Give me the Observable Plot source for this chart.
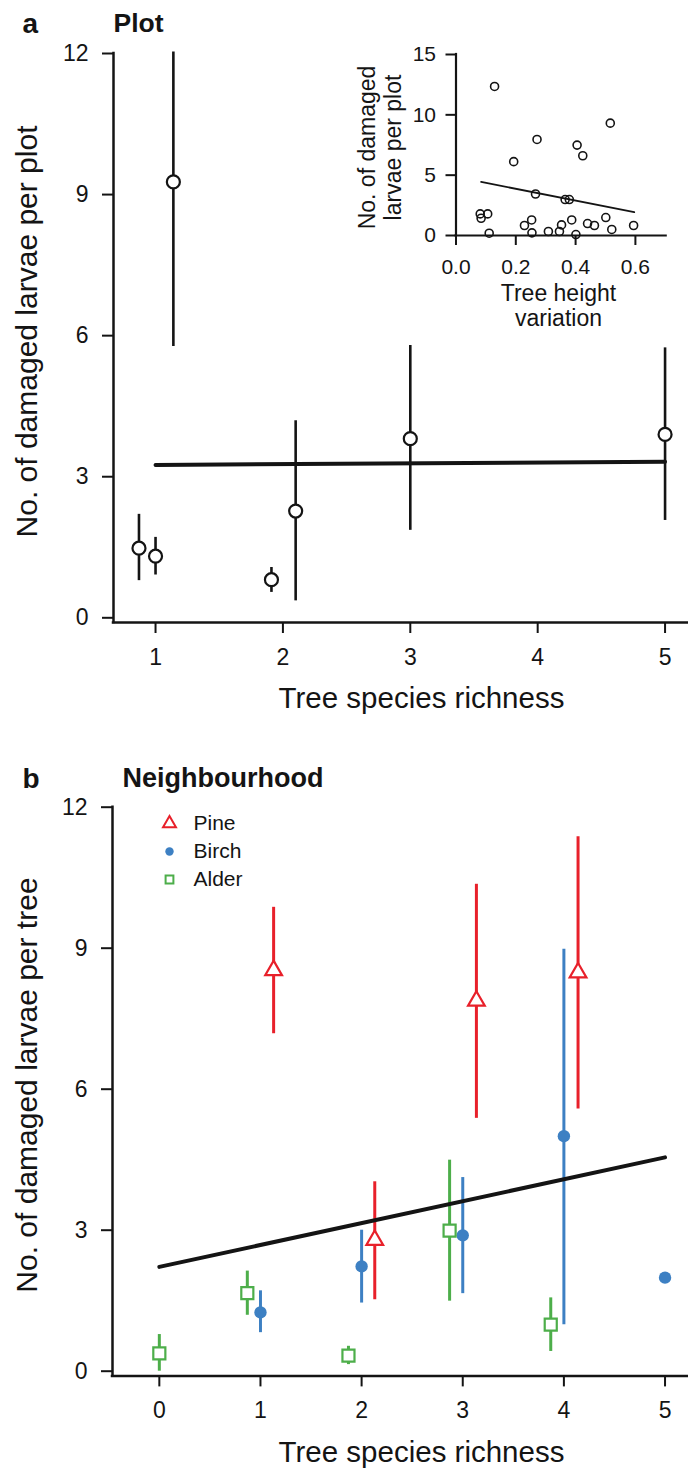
<!DOCTYPE html>
<html><head><meta charset="utf-8">
<script src="https://cdn.jsdelivr.net/npm/d3@7"></script>
<script src="https://cdn.jsdelivr.net/npm/@observablehq/plot@0.6"></script>
<style>
html,body{margin:0;padding:0;background:#fff;overflow:hidden;}
#wrap{position:relative;width:688px;height:1473px;background:#fff;}
#wrap > svg{position:absolute;}
</style></head><body><div id="wrap"></div>
<script>
// ---------- Panel a: plot level ----------
const richnessTicksA = [1, 2, 3, 4, 5];
const damageTicks = [0, 3, 6, 9, 12];
const plotRichness = [0.87, 1.0, 1.14, 1.91, 2.10, 3.0, 5.0];
const plotMean = [1.48, 1.31, 9.27, 0.81, 2.27, 3.81, 3.90];
const plotLow = [0.79, 0.91, 5.77, 0.54, 0.36, 1.86, 2.07];
const plotHigh = [2.20, 1.71, 12.03, 1.07, 4.19, 5.79, 5.74];
const plotFitRichness = [1, 5];
const plotFitValue = [3.25, 3.32];

// ---------- Inset: tree height variation ----------
const heightTicks = [0, 0.2, 0.4, 0.6];
const insetDamageTicks = [0, 5, 10, 15];
const heightVariation = [0.084, 0.081, 0.106, 0.111, 0.129, 0.193, 0.229, 0.253, 0.254, 0.266, 0.271, 0.309, 0.346, 0.353, 0.365, 0.379, 0.387, 0.401, 0.405, 0.424, 0.440, 0.463, 0.501, 0.516, 0.521, 0.594];
const heightDamage = [1.43, 1.79, 1.79, 0.19, 12.35, 6.12, 0.83, 1.29, 0.22, 3.44, 7.96, 0.33, 0.33, 0.88, 2.98, 2.98, 1.29, 0.08, 7.49, 6.61, 0.99, 0.83, 1.49, 9.31, 0.50, 0.83];
const heightFitX = [0.084, 0.596];
const heightFitY = [4.44, 1.93];

// ---------- Panel b: neighbourhood ----------
const richnessTicksB = [0, 1, 2, 3, 4, 5];
const species = ["Pine", "Birch", "Alder"];
const speciesColors = ["#e8202a", "#3d80c3", "#4dae4a"];
const speciesSymbols = ["triangle", "circle", "square"];
const pineRichness = [1.13, 2.13, 3.135, 4.14];
const pineMean = [8.53, 2.79, 7.88, 8.48];
const pineLow = [7.18, 1.52, 5.38, 5.58];
const pineHigh = [9.87, 4.03, 10.36, 11.37];
const birchRichness = [1.0, 2.0, 3.0, 4.0, 5.0];
const birchMean = [1.25, 2.23, 2.89, 5.00, 1.99];
const birchLow = [0.82, 1.45, 1.65, 0.99, null];
const birchHigh = [1.71, 3.00, 4.12, 8.98, null];
const alderRichness = [0.0, 0.87, 1.87, 2.87, 3.87];
const alderMean = [0.38, 1.66, 0.33, 2.99, 0.99];
const alderLow = [0.0, 1.19, 0.14, 1.49, 0.42];
const alderHigh = [0.78, 2.13, 0.53, 4.49, 1.56];
const neighFitRichness = [0, 5];
const neighFitValue = [2.22, 4.55];

// ---------- helpers ----------
const FONT = "'Liberation Sans', Arial, Helvetica, sans-serif";
const INK = "#141414";
const intFmt = d3.format("d");
const rows = (xs, ys, lo, hi) => xs.map((x, i) => ({x, y: ys[i], lo: lo ? lo[i] : null, hi: hi ? hi[i] : null}));
const wrap = document.getElementById("wrap");
function place(svg, left, top) {
  svg.style.left = left + "px";
  svg.style.top = top + "px";
  wrap.appendChild(svg);
}

// ---------- Panel a ----------
const aRows = rows(plotRichness, plotMean, plotLow, plotHigh);
const aFit = rows(plotFitRichness, plotFitValue);
const aX = [0.67, 5.184], aY = [-0.1, 12];
const chartA = Plot.plot({
  width: 688, height: 740,
  marginLeft: 113, marginRight: 0, marginTop: 53, marginBottom: 118,
  x: {domain: aX}, y: {domain: aY},
  style: {fontFamily: FONT, fontSize: "23px", color: INK, background: "transparent"},
  marks: [
    Plot.ruleX([aX[0]], {y1: aY[0], y2: damageTicks[damageTicks.length - 1], stroke: INK, strokeWidth: 2.5, strokeLinecap: "square"}),
    Plot.ruleY([aY[0]], {x1: aX[0], x2: aX[1], stroke: INK, strokeWidth: 2.5, strokeLinecap: "square"}),
    Plot.axisY({ticks: damageTicks, tickFormat: intFmt, tickSize: 11, tickPadding: 14, strokeWidth: 2, label: null}),
    Plot.axisX({ticks: richnessTicksA, tickFormat: intFmt, tickSize: 11, tickPadding: 15, strokeWidth: 2, label: null}),
    Plot.ruleX(aRows, {x: "x", y1: "lo", y2: "hi", stroke: INK, strokeWidth: 2.6}),
    Plot.line(aFit, {x: "x", y: "y", stroke: INK, strokeWidth: 4}),
    Plot.dot(aRows, {x: "x", y: "y", r: 6.5, fill: "white", stroke: INK, strokeWidth: 2.2}),
    Plot.text(["Tree species richness"], {frameAnchor: "bottom", dx: 20.5, dy: 76, lineAnchor: "middle", fontSize: 29.5, fill: INK}),
    Plot.text(["No. of damaged larvae per plot"], {frameAnchor: "left", rotate: -90, dx: -86, dy: -6.5, lineAnchor: "middle", textAnchor: "middle", fontSize: 30, fill: INK}),
    Plot.text(["a"], {frameAnchor: "top-left", dx: -91, dy: -40, textAnchor: "start", lineAnchor: "top", fontSize: 28, fontWeight: "bold", fill: INK}),
    Plot.text(["Plot"], {frameAnchor: "top-left", dx: 0, dy: -40, textAnchor: "start", lineAnchor: "top", fontSize: 26.5, fontWeight: "bold", fill: INK})
  ]
});
place(chartA, 0, 0);

// ---------- Inset ----------
const inRows = rows(heightVariation, heightDamage);
const inFit = rows(heightFitX, heightFitY);
const iX = [0, 0.703], iY = [0, 15];
const chartIn = Plot.plot({
  width: 340, height: 310,
  marginLeft: 115.5, marginRight: 14.3, marginTop: 24, marginBottom: 105,
  x: {domain: iX}, y: {domain: iY},
  style: {fontFamily: FONT, fontSize: "21px", color: INK, background: "transparent"},
  marks: [
    Plot.ruleX([iX[0]], {y1: iY[0], y2: iY[1], stroke: INK, strokeWidth: 2.2, strokeLinecap: "square"}),
    Plot.ruleY([iY[0]], {x1: iX[0], x2: iX[1], stroke: INK, strokeWidth: 2.2, strokeLinecap: "square"}),
    Plot.axisY({ticks: insetDamageTicks, tickFormat: intFmt, tickSize: 10, tickPadding: 10, strokeWidth: 2, label: null}),
    Plot.axisX({ticks: heightTicks, tickFormat: d3.format(".1f"), tickSize: 10, tickPadding: 14, strokeWidth: 2, label: null}),
    Plot.line(inFit, {x: "x", y: "y", stroke: INK, strokeWidth: 1.8}),
    Plot.dot(inRows, {x: "x", y: "y", r: 4, fill: "none", stroke: INK, strokeWidth: 1.6}),
    Plot.text(["Tree height\nvariation"], {frameAnchor: "bottom", dx: -2.6, dy: 70, lineAnchor: "middle", textAnchor: "middle", lineHeight: 1.1, fontSize: 23, fill: INK}),
    Plot.text(["No. of damaged\nlarvae per plot"], {frameAnchor: "left", rotate: -90, dx: -76, dy: 2.5, lineAnchor: "middle", textAnchor: "middle", lineHeight: 1.1, fontSize: 23, fill: INK})
  ]
});
place(chartIn, 340, 30);

// ---------- Panel b ----------
const bX = [-0.463, 5.232], bY = [-0.1, 12];
const bFit = rows(neighFitRichness, neighFitValue);
const bSets = [
  rows(pineRichness, pineMean, pineLow, pineHigh),
  rows(birchRichness, birchMean, birchLow, birchHigh),
  rows(alderRichness, alderMean, alderLow, alderHigh)
];
const sizeIn = {triangle: 6.2, circle: 6.2, square: 6.8};
const sizeLegend = {triangle: 4.8, circle: 4.2, square: 4.4};
const speciesMarks = [];
bSets.forEach((set, k) => {
  const col = speciesColors[k];
  speciesMarks.push(Plot.ruleX(set.filter(d => d.lo != null), {x: "x", y1: "lo", y2: "hi", stroke: col, strokeWidth: 3}));
});
bSets.forEach((set, k) => {
  const col = speciesColors[k], sym = speciesSymbols[k];
  const filled = sym === "circle";
  speciesMarks.push(Plot.dot(set, {x: "x", y: "y", symbol: sym, r: sizeIn[sym], fill: filled ? col : "white", stroke: col, strokeWidth: filled ? 0 : 2.2}));
});
const legendMarks = [];
species.forEach((name, k) => {
  const col = speciesColors[k], sym = speciesSymbols[k];
  const filled = sym === "circle";
  const dy = 16.3 + 28 * k;
  legendMarks.push(Plot.dot([name], {frameAnchor: "top-left", dx: 57, dy, symbol: sym, r: sizeLegend[sym], fill: filled ? col : "white", stroke: col, strokeWidth: filled ? 0 : 2}));
  legendMarks.push(Plot.text([name], {frameAnchor: "top-left", dx: 81, dy, textAnchor: "start", lineAnchor: "middle", fontSize: 21, fill: INK}));
});
const chartB = Plot.plot({
  width: 688, height: 733,
  marginLeft: 112, marginRight: 0, marginTop: 66.7, marginBottom: 97.6,
  x: {domain: bX}, y: {domain: bY},
  style: {fontFamily: FONT, fontSize: "23px", color: INK, background: "transparent"},
  marks: [
    Plot.ruleX([bX[0]], {y1: bY[0], y2: damageTicks[damageTicks.length - 1], stroke: INK, strokeWidth: 2.5, strokeLinecap: "square"}),
    Plot.ruleY([bY[0]], {x1: bX[0], x2: bX[1], stroke: INK, strokeWidth: 2.5, strokeLinecap: "square"}),
    Plot.axisY({ticks: damageTicks, tickFormat: intFmt, tickSize: 11, tickPadding: 14, strokeWidth: 2, label: null}),
    Plot.axisX({ticks: richnessTicksB, tickFormat: intFmt, tickSize: 11, tickPadding: 15, strokeWidth: 2, label: null}),
    ...speciesMarks.slice(0, 3),
    Plot.line(bFit, {x: "x", y: "y", stroke: INK, strokeWidth: 4}),
    ...speciesMarks.slice(3),
    ...legendMarks,
    Plot.text(["Tree species richness"], {frameAnchor: "bottom", dx: 21, dy: 77, lineAnchor: "middle", fontSize: 29.5, fill: INK}),
    Plot.text(["No. of damaged larvae per tree"], {frameAnchor: "left", rotate: -90, dx: -85, dy: -6.5, lineAnchor: "middle", textAnchor: "middle", fontSize: 30, fill: INK}),
    Plot.text(["b"], {frameAnchor: "top-left", dx: -90, dy: -39, textAnchor: "start", lineAnchor: "top", fontSize: 28, fontWeight: "bold", fill: INK}),
    Plot.text(["Neighbourhood"], {frameAnchor: "top-left", dx: 10, dy: -39, textAnchor: "start", lineAnchor: "top", fontSize: 27, fontWeight: "bold", fill: INK})
  ]
});
place(chartB, 0, 740);
</script>
</body></html>
